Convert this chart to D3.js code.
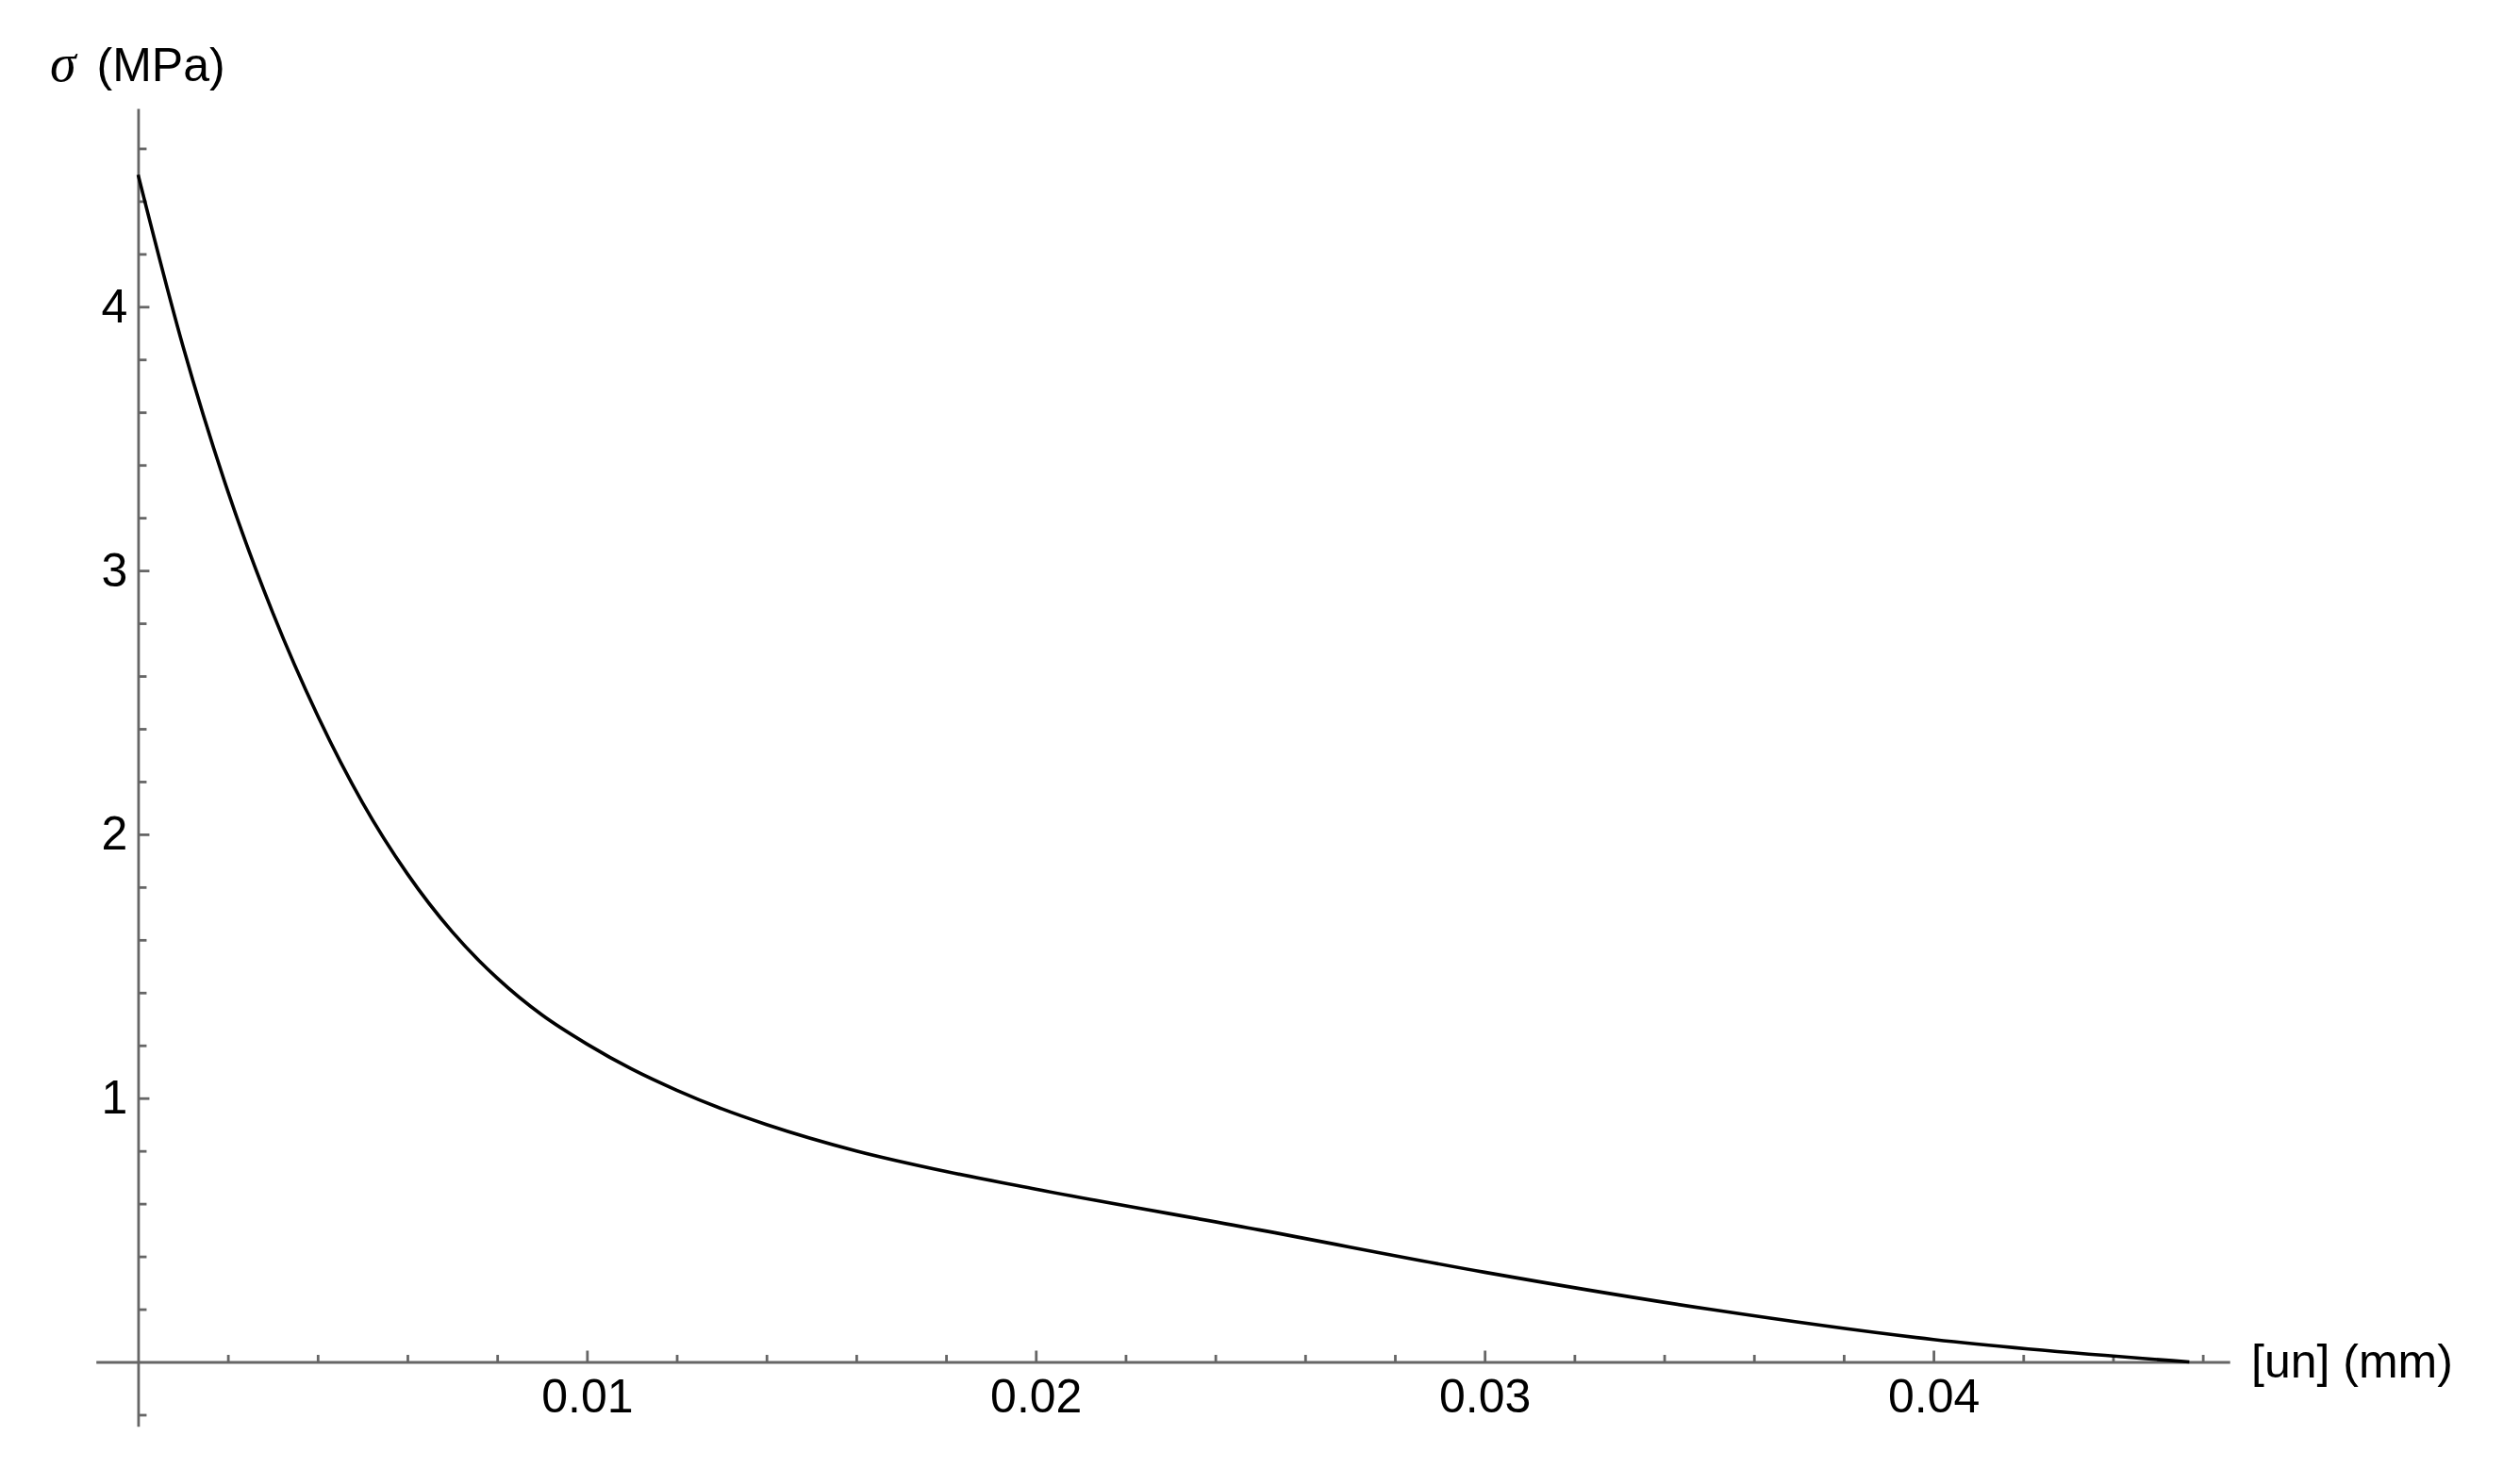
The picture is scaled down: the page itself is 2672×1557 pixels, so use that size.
<!DOCTYPE html>
<html>
<head>
<meta charset="utf-8">
<script src="https://cdn.jsdelivr.net/npm/d3@7"></script>
<style>
  html, body { margin: 0; padding: 0; background: #fff; }
  svg { display: block; font-family: "Liberation Sans", Arial, sans-serif; }
  .axis path, .axis line { stroke: #666; stroke-width: 2.8; }
  .axis text { fill: #000; font-size: 50px; font-family: "Liberation Sans", Arial, sans-serif; }
</style>
</head>
<body>
<script>
const width = 2672,
  height = 1557;

// curve: opening displacement (mm) vs stress (MPa)
const un = [0, 0.001, 0.002, 0.003, 0.004, 0.005, 0.006, 0.007, 0.008, 0.009, 0.010,
  0.011, 0.012, 0.013, 0.014, 0.016, 0.018, 0.020, 0.025, 0.030, 0.035, 0.040, 0.0457];
const sigma = [4.5, 3.85, 3.3, 2.84, 2.45, 2.12, 1.85, 1.63, 1.455, 1.315, 1.205,
  1.11, 1.03, 0.96, 0.9, 0.8, 0.722, 0.655, 0.5, 0.34, 0.2, 0.085, 0];

const xTicks = [0.01, 0.02, 0.03, 0.04],
  xMinorTicks = [0.002, 0.004, 0.006, 0.008, 0.012, 0.014, 0.016, 0.018, 0.022, 0.024,
    0.026, 0.028, 0.032, 0.034, 0.036, 0.038, 0.042, 0.044, 0.046];
const yTicks = [1, 2, 3, 4],
  yMinorTicks = [-0.2, 0.2, 0.4, 0.6, 0.8, 1.2, 1.4, 1.6, 1.8, 2.2, 2.4, 2.6, 2.8,
    3.2, 3.4, 3.6, 3.8, 4.2, 4.4, 4.6];

const xLabel = '[un] (mm)',
  yLabelSymbol = 'σ',
  yLabelUnit = ' (MPa)';

function main() {
  const svg = d3.select('body').append('svg')
    .attr('width', width)
    .attr('height', height)
    .attr('viewBox', [0, 0, width, height]);

  // scales span the full drawn axis lines (they overshoot the origin a bit)
  const x = d3.scaleLinear().domain([-0.00094, 0.0466]).range([101.7, 2364.2]);
  const y = d3.scaleLinear().domain([-0.2437, 4.7516]).range([1512.7, 115]);

  // minor ticks first, then the major axis on top
  svg.append('g')
    .attr('class', 'axis')
    .attr('transform', `translate(0,${y(0)})`)
    .call(d3.axisBottom(x).tickValues(xMinorTicks).tickSizeInner(-7.5).tickSizeOuter(0).tickFormat(''))
    .call(g => g.select('.domain').remove());

  svg.append('g')
    .attr('class', 'axis')
    .attr('transform', `translate(${x(0)},0)`)
    .call(d3.axisLeft(y).tickValues(yMinorTicks).tickSizeInner(-9).tickSizeOuter(0).tickFormat(''))
    .call(g => g.select('.domain').remove());

  svg.append('g')
    .attr('class', 'axis')
    .attr('transform', `translate(0,${y(0)})`)
    .call(d3.axisBottom(x).tickValues(xTicks).tickSizeInner(-12).tickSizeOuter(0)
      .tickPadding(17.5).tickFormat(d3.format('.2f')))
    .call(g => g.selectAll('.tick text').attr('font-size', 50));

  svg.append('g')
    .attr('class', 'axis')
    .attr('transform', `translate(${x(0)},0)`)
    .call(d3.axisLeft(y).tickValues(yTicks).tickSizeInner(-12).tickSizeOuter(0)
      .tickPadding(11).tickFormat(d3.format('d')))
    .call(g => g.selectAll('.tick text').attr('font-size', 50));

  // the curve
  const points = un.map((u, i) => [u, sigma[i]]);
  const line = d3.line()
    .x(d => x(d[0]))
    .y(d => y(d[1]))
    .curve(d3.curveMonotoneX);

  svg.append('path')
    .datum(points)
    .attr('fill', 'none')
    .attr('stroke', '#000')
    .attr('stroke-width', 3.6)
    .attr('stroke-linejoin', 'round')
    .attr('d', line);

  // axis labels
  svg.append('text')
    .attr('x', 2387)
    .attr('y', 1461)
    .attr('font-size', 50)
    .attr('fill', '#000')
    .text(xLabel);

  const yl = svg.append('text')
    .attr('x', 53)
    .attr('y', 86)
    .attr('font-size', 50)
    .attr('fill', '#000');
  yl.append('tspan')
    .attr('font-style', 'italic')
    .attr('font-family', '"Liberation Serif", serif')
    .attr('font-size', 56)
    .text(yLabelSymbol);
  yl.append('tspan')
    .attr('dx', 8)
    .text(yLabelUnit);
}

main();
</script>
</body>
</html>
